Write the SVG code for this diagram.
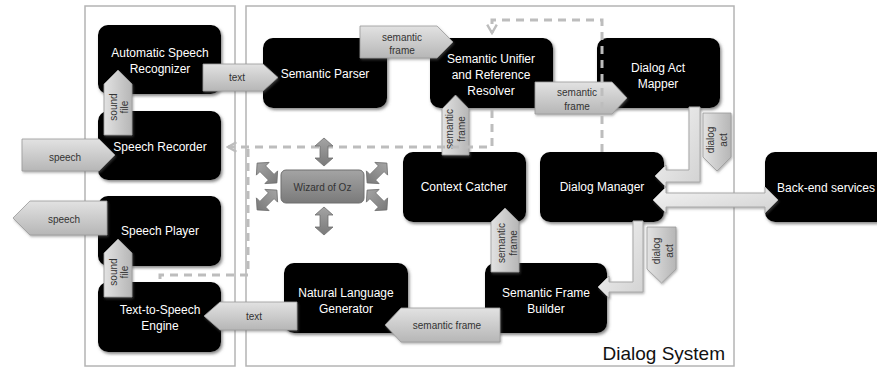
<svg xmlns="http://www.w3.org/2000/svg" width="877" height="368" viewBox="0 0 877 368">
<defs>
<style>
.panel{fill:#fff;stroke:#b4b4b4;stroke-width:1.5}
.node{fill:#000;filter:url(#nshadow)}
.nt{font-family:"Liberation Sans",Arial,sans-serif;font-size:12px;fill:#fff;text-anchor:middle}
.blk{fill:url(#gArrow);stroke:#9a9a9a;stroke-width:0.8;filter:url(#ashadow)}
.blkv{fill:url(#gArrowV);stroke:#9a9a9a;stroke-width:0.8;filter:url(#ashadow)}
.elb{fill:url(#gLight);stroke:#a8a8a8;stroke-width:1;filter:url(#ashadow)}
.al{font-family:"Liberation Sans",Arial,sans-serif;font-size:10px;fill:#333;text-anchor:middle}
.dash{fill:none;stroke:#bdbdbd;stroke-width:3;stroke-dasharray:8 6}
.woz{fill:url(#gWoz);stroke:#6e6e6e;stroke-width:0.8}
.title{font-family:"Liberation Sans",Arial,sans-serif;font-size:19px;fill:#111;text-anchor:end}
</style>
<linearGradient id="gArrow" x1="0" y1="0" x2="0" y2="1">
<stop offset="0" stop-color="#e2e2e2"/><stop offset="1" stop-color="#b6b6b6"/>
</linearGradient>
<linearGradient id="gArrowV" x1="0" y1="0" x2="1" y2="0">
<stop offset="0" stop-color="#e2e2e2"/><stop offset="1" stop-color="#b6b6b6"/>
</linearGradient>
<linearGradient id="gLight" x1="0" y1="0" x2="1" y2="1">
<stop offset="0" stop-color="#f4f4f4"/><stop offset="1" stop-color="#d2d2d2"/>
</linearGradient>
<linearGradient id="gWoz" x1="0" y1="0" x2="0" y2="1">
<stop offset="0" stop-color="#a4a4a4"/><stop offset="1" stop-color="#7a7a7a"/>
</linearGradient>
<filter id="nshadow" x="-10%" y="-10%" width="125%" height="130%">
<feDropShadow dx="1.5" dy="2" stdDeviation="1.5" flood-color="#555" flood-opacity="0.7"/>
</filter>
<filter id="ashadow" x="-10%" y="-10%" width="125%" height="130%">
<feDropShadow dx="1" dy="1.5" stdDeviation="1" flood-color="#666" flood-opacity="0.5"/>
</filter>
<marker id="openhead" viewBox="0 0 10 10" refX="8" refY="5" markerWidth="4" markerHeight="4" orient="auto">
<path d="M1,1 L8,5 L1,9" fill="none" stroke="#bdbdbd" stroke-width="2"/>
</marker>
<path id="dbl" d="M0,-14 L9,-6 L4,-6 L4,6 L9,6 L0,14 L-9,6 L-4,6 L-4,-6 L-9,-6 Z"/>
</defs>

<rect width="877" height="368" fill="#fff"/>

<g id="panels">
<rect class="panel" x="85" y="6" width="150" height="360"/>
<rect class="panel" x="246" y="6" width="488" height="360"/>
<text class="title" x="725" y="360">Dialog System</text>
</g>

<g id="asr"><rect class="node" x="98" y="25" width="123" height="69" rx="10"/>
<text class="nt" x="160" y="57">Automatic Speech</text><text class="nt" x="160" y="73">Recognizer</text></g>
<g id="speech-recorder"><rect class="node" x="98" y="111" width="123" height="69" rx="10"/>
<text class="nt" x="160" y="151">Speech Recorder</text></g>
<g id="speech-player"><rect class="node" x="98" y="196" width="123" height="70" rx="10"/>
<text class="nt" x="160" y="235">Speech Player</text></g>
<g id="tts"><rect class="node" x="98" y="282" width="123" height="70" rx="10"/>
<text class="nt" x="160" y="314">Text-to-Speech</text><text class="nt" x="160" y="330">Engine</text></g>
<g id="semantic-parser"><rect class="node" x="263" y="38" width="124" height="70" rx="10"/>
<text class="nt" x="325" y="78">Semantic Parser</text></g>
<g id="semantic-unifier"><rect class="node" x="430" y="38" width="123" height="70" rx="10"/>
<text class="nt" x="491" y="63">Semantic Unifier</text><text class="nt" x="491" y="79">and Reference</text><text class="nt" x="491" y="95">Resolver</text></g>
<g id="dialog-act-mapper"><rect class="node" x="597" y="38" width="123" height="70" rx="10"/>
<text class="nt" x="658" y="72">Dialog Act</text><text class="nt" x="658" y="88">Mapper</text></g>
<g id="context-catcher"><rect class="node" x="403" y="152" width="123" height="70" rx="10"/>
<text class="nt" x="464" y="191">Context Catcher</text></g>
<g id="dialog-manager"><rect class="node" x="540" y="152" width="124" height="70" rx="10"/>
<text class="nt" x="602" y="191">Dialog Manager</text></g>
<g id="back-end"><rect class="node" x="765" y="152" width="130" height="70" rx="10"/>
<text class="nt" x="826" y="192">Back-end services</text></g>
<g id="nlg"><rect class="node" x="284" y="263" width="124" height="70" rx="10"/>
<text class="nt" x="346" y="297">Natural Language</text><text class="nt" x="346" y="313">Generator</text></g>
<g id="sfb"><rect class="node" x="485" y="263" width="122" height="70" rx="10"/>
<text class="nt" x="546" y="297">Semantic Frame</text><text class="nt" x="546" y="313">Builder</text></g>

<g id="connectors">
<path class="blk" d="M203,64 H263 L278,77.5 L263,91 H203 Z"/>
<text class="al" x="237" y="81">text</text>
<path class="blkv" d="M104,135 V84 L118,70 L132,84 V135 Z"/>
<text class="al" transform="translate(117,107) rotate(-90)"><tspan x="0" y="0">sound</tspan><tspan x="0" y="11">file</tspan></text>
<path class="blk" d="M22,139 H99 L115,155 L99,171 H22 Z"/>
<text class="al" x="65" y="161">speech</text>
<path class="blk" d="M13,218 L30,201 H107 V235 H30 Z"/>
<text class="al" x="64" y="223">speech</text>
<path class="blkv" d="M104,297 V253 L118,239 L132,253 V297 Z"/>
<text class="al" transform="translate(117,272) rotate(-90)"><tspan x="0" y="0">sound</tspan><tspan x="0" y="11">file</tspan></text>
<path class="blk" d="M204,316 L220,302 H297 V330 H220 Z"/>
<text class="al" x="254" y="320">text</text>
<path class="blk" d="M385,325 L401,308 H500 V342 H401 Z"/>
<text class="al" x="447" y="329">semantic frame</text>
<path class="blk" d="M360,26 H437 L453,42 L437,58 H360 Z"/>
<text class="al" x="402" y="41">semantic</text><text class="al" x="402" y="54">frame</text>
<path class="blk" d="M535,82 H612 L627,98 L612,114 H535 Z"/>
<text class="al" x="577" y="96">semantic</text><text class="al" x="577" y="110">frame</text>
<path class="blkv" d="M442,155 V109 L455.5,95 L469,109 V155 Z"/>
<text class="al" transform="translate(453,129) rotate(-90)"><tspan x="0" y="0">semantic</tspan><tspan x="0" y="12">frame</tspan></text>
<path class="blkv" d="M491,272 V222 L505,208 L519,222 V272 Z"/>
<text class="al" transform="translate(505,243) rotate(-90)"><tspan x="0" y="0">semantic</tspan><tspan x="0" y="12">frame</tspan></text>
<path class="elb" d="M689,107 H700 V182 H666 V187 L655,176 L666,165 V170 H689 Z"/>
<path class="blkv" d="M703,113 H731 V157 L717,171 L703,157 Z"/>
<text class="al" transform="translate(714,140) rotate(-90)"><tspan x="0" y="0">dialog</tspan><tspan x="0" y="13">act</tspan></text>
<path class="elb" d="M633,221 H643 V292 H609 V298 L598,287 L609,276 V282 H633 Z"/>
<path class="blkv" d="M647,227 H676 V269 L661.5,283 L647,269 Z"/>
<text class="al" transform="translate(660,251) rotate(-90)"><tspan x="0" y="0">dialog</tspan><tspan x="0" y="13">act</tspan></text>
<path class="elb" d="M653,200 L666,187 V193 H765 V187 L778,200 L765,213 V207 H666 V213 Z"/>
<path class="dash" d="M492,110 V147 H228" marker-end="url(#openhead)"/>
<path class="dash" d="M248,149 V275 H160 V282"/>
<path class="dash" d="M602,152 V20 H492 V33" marker-end="url(#openhead)"/>
</g>

<g id="wizard-of-oz">
<use href="#dbl" class="woz" transform="translate(324,152)"/>
<use href="#dbl" class="woz" transform="translate(324,221)"/>
<use href="#dbl" class="woz" transform="translate(267,173) rotate(-45)"/>
<use href="#dbl" class="woz" transform="translate(377,200) rotate(-45)"/>
<use href="#dbl" class="woz" transform="translate(377,173) rotate(45)"/>
<use href="#dbl" class="woz" transform="translate(267,200) rotate(45)"/>
<rect x="281" y="170" width="83" height="33" rx="5" fill="url(#gWoz)" stroke="#6e6e6e" stroke-width="1"/>
<text x="322.5" y="191" font-family="Liberation Sans, Arial, sans-serif" font-size="10" fill="#333" text-anchor="middle">Wizard of Oz</text>
</g>
</svg>
